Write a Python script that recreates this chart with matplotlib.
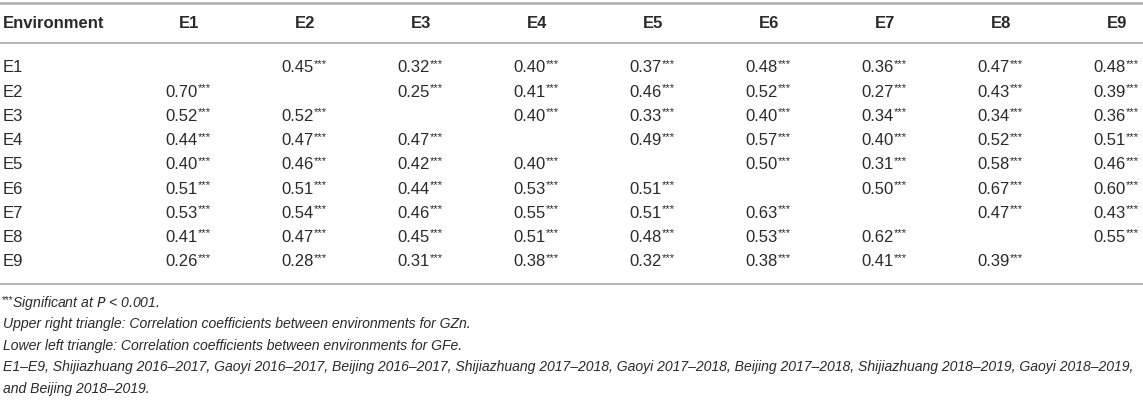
import matplotlib
matplotlib.use("Agg")
import matplotlib.pyplot as plt

plt.rcParams['font.family'] = ['Liberation Sans', 'DejaVu Sans']

# table data
envs = ['E1', 'E2', 'E3', 'E4', 'E5', 'E6', 'E7', 'E8', 'E9']

# upper right triangle (GZn), row by row
gzn_upper = [
    [0.45, 0.32, 0.40, 0.37, 0.48, 0.36, 0.47, 0.48],
    [0.25, 0.41, 0.46, 0.52, 0.27, 0.43, 0.39],
    [0.40, 0.33, 0.40, 0.34, 0.34, 0.36],
    [0.49, 0.57, 0.40, 0.52, 0.51],
    [0.50, 0.31, 0.58, 0.46],
    [0.50, 0.67, 0.60],
    [0.47, 0.43],
    [0.55],
]

# lower left triangle (GFe), row by row starting at E2
gfe_lower = [
    [0.70],
    [0.52, 0.52],
    [0.44, 0.47, 0.47],
    [0.40, 0.46, 0.42, 0.40],
    [0.51, 0.51, 0.44, 0.53, 0.51],
    [0.53, 0.54, 0.46, 0.55, 0.51, 0.63],
    [0.41, 0.47, 0.45, 0.51, 0.48, 0.53, 0.62],
    [0.26, 0.28, 0.31, 0.38, 0.32, 0.38, 0.41, 0.39],
]

notes = [
    'Upper right triangle: Correlation coefficients between environments for GZn.',
    'Lower left triangle: Correlation coefficients between environments for GFe.',
    'E1\u2013E9, Shijiazhuang 2016\u20132017, Gaoyi 2016\u20132017, Beijing 2016\u20132017, '
    'Shijiazhuang 2017\u20132018, Gaoyi 2017\u20132018, Beijing 2017\u20132018, '
    'Shijiazhuang 2018\u20132019, Gaoyi 2018\u20132019,',
    'and Beijing 2018\u20132019.',
]

W, H = 1143, 407
fig = plt.figure(figsize=(W / 100, H / 100), dpi=100)
ax = fig.add_axes([0, 0, 1, 1])
ax.set_xlim(0, W)
ax.set_ylim(H, 0)
ax.axis('off')

txt = '#2a2a2a'
rule = '#b4b4b4'
fs = 12
col0 = 189
dcol = 116
row0 = 68
drow = 24.2

def cell(x, y, v):
    ax.text(x + 9, y, f'{v:.2f}', ha='right', va='center', fontsize=fs, color=txt)
    ax.text(x + 9, y - 4, '***', ha='left', va='center', fontsize=8, color=txt)

# rules
ax.axhline(3, color=rule, lw=2.0)
ax.axhline(43, color=rule, lw=1.4)
yb = row0 + drow * (len(envs) - 1) + 22
ax.axhline(yb, color=rule, lw=1.4)

# header
ax.text(3, 23, 'Environment', ha='left', va='center', fontsize=fs,
        fontweight='bold', color=txt)
for j, e in enumerate(envs):
    ax.text(col0 + j * dcol, 23, e, ha='center', va='center', fontsize=fs,
            fontweight='bold', color=txt)

# body
for i, e in enumerate(envs):
    y = row0 + i * drow
    ax.text(3, y, e, ha='left', va='center', fontsize=fs, color=txt)
    if i < len(gzn_upper):
        for k, v in enumerate(gzn_upper[i]):
            cell(col0 + (i + 1 + k) * dcol, y, v)
    if i > 0:
        for k, v in enumerate(gfe_lower[i - 1]):
            cell(col0 + k * dcol, y, v)

# footnotes
fy = yb + 19
nfs = 10.1
ax.text(2, fy - 3, '***', ha='left', va='center', fontsize=7, color=txt)
ax.text(12, fy, 'Significant at $\\it{P}$ < 0.001.', ha='left', va='center',
        fontsize=nfs, style='italic', color=txt)
for n, line in enumerate(notes):
    ax.text(3, fy + (n + 1) * 21.5, line, ha='left', va='center', fontsize=nfs,
            style='italic', color=txt)

fig.savefig('out.png', dpi=100)
